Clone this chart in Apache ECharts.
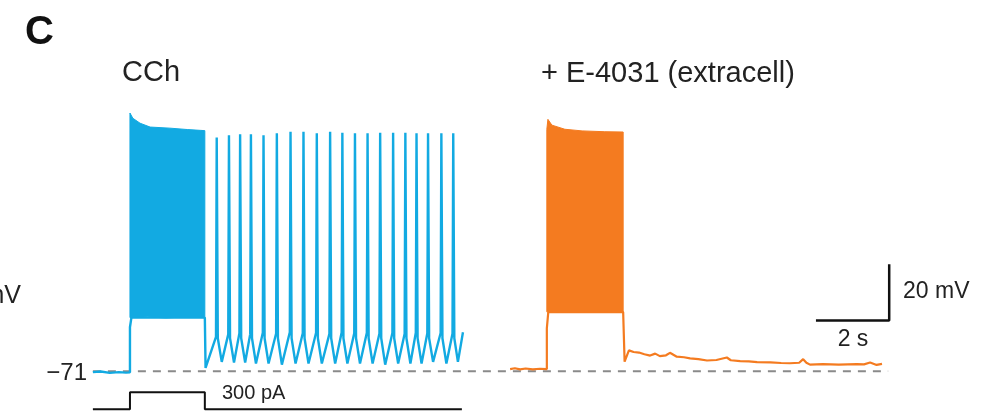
<!DOCTYPE html>
<html>
<head>
<meta charset="utf-8">
<script src="https://cdn.jsdelivr.net/npm/echarts@6/dist/echarts.min.js"></script>
<style>
  html, body { margin: 0; padding: 0; background: #fff; }
  #main { width: 986px; height: 417px; }
</style>
</head>
<body>
<div id="main"></div>
<script>
// membrane potential in mV, time in s
var restV = -71;

// CCh trace: baseline, then 300 pA step, then repetitive firing
var blueBase = [[0.08, -71.3], [0.3, -71.1], [0.55, -71.6], [0.8, -71.3], [1.0, -71.5], [1.11, -71.4],
  [1.11, -55.0], [1.14, -55.2], [1.15, -51.5], [3.19, -51.5], [3.21, -69.8]];
var spikeT = [3.52, 3.86, 4.17, 4.47, 4.82, 5.19, 5.57, 5.93, 6.30, 6.67, 7.01, 7.36, 7.71, 8.06, 8.42, 8.76, 9.07, 9.39, 9.76, 10.09];
var spikePeak = [14.0, 14.8, 15.2, 15.2, 14.8, 15.5, 16.1, 16.1, 15.5, 16.1, 15.7, 15.5, 15.5, 15.7, 15.7, 15.7, 15.5, 15.5, 15.5, 15.5];
var spikeFoot = [-58.5, -57.6, -57.2, -57.5, -57.0, -57.3, -56.8, -57.2, -57.0, -57.4, -56.9, -57.2, -57.0, -57.3, -57.1, -57.4, -57.0, -57.2, -57.1, -57.3];
// end of the fast repolarisation, then the AHP trough
var repolT = [3.55, 3.89, 4.20, 4.50, 4.85, 5.22, 5.60, 5.96, 6.33, 6.70, 7.04, 7.39, 7.74, 8.09, 8.45, 8.79, 9.10, 9.42, 9.79, 10.12];
var repolV = -59;
var troughT = [3.66, 4.00, 4.31, 4.61, 4.96, 5.33, 5.71, 6.07, 6.44, 6.81, 7.15, 7.50, 7.85, 8.20, 8.56, 8.90, 9.21, 9.53, 9.90, 10.22];
var troughV = [-67.6, -67.8, -67.8, -68.2, -68.2, -68.6, -68.2, -68.2, -68.2, -68.2, -68.2, -68.2, -68.2, -68.6, -68.2, -68.2, -68.2, -67.6, -68.2, -67.6];
var blueEnd = [10.36, -56.8];
// envelope of the dense firing during the step
var blueBandHi = [[1.11, 22.9], [1.19, 21.0], [1.39, 19.2], [1.67, 17.8], [2.22, 17.4], [2.7, 16.9], [3.06, 16.6], [3.19, 16.5]];
var blueBandLo = [[1.11, -51.5], [1.6, -51.2], [2.1, -51.6], [2.6, -51.3], [3.19, -51.5]];

// + E-4031 trace
var orangeTrace = [[11.67, -70.2], [11.72, -69.5], [11.8, -69.9], [11.95, -70.3], [12.1, -70.0], [12.3, -70.3], [12.5, -70.1], [12.69, -70.2],
  [12.69, -55.4], [12.72, -55.0], [12.73, -49.5], [14.81, -49.5],
  [14.85, -67.5], [14.97, -63.4], [15.1, -64.0], [15.25, -64.2], [15.4, -64.8], [15.56, -65.3], [15.7, -64.6], [15.83, -65.5],
  [16.0, -65.2], [16.11, -64.3], [16.3, -65.7], [16.5, -65.9], [16.67, -66.3], [16.9, -66.6], [17.14, -67.1], [17.4, -66.9],
  [17.69, -66.0], [17.8, -67.0], [18.06, -67.3], [18.3, -67.4], [18.53, -67.7], [18.9, -67.8], [19.2, -68.0], [19.44, -68.1],
  [19.7, -67.9], [19.81, -66.6], [19.9, -67.9], [20.0, -68.6], [20.36, -68.4], [20.8, -68.6], [21.3, -68.4], [21.5, -68.5],
  [21.67, -67.8], [21.85, -68.7], [22.0, -68.3]];
var orangeBandHi = [[12.69, 17.0], [12.72, 20.6], [12.83, 18.5], [13.19, 17.0], [13.67, 16.4], [14.3, 16.1], [14.81, 16.0]];
var orangeBandLo = [[12.69, -49.4], [13.3, -49.6], [14.0, -49.3], [14.81, -49.5]];

// injected current, pA
var currentStep = [[0.08, 0], [1.11, 0], [1.11, 300], [3.19, 300], [3.19, 0], [10.33, 0]];

// scale bar: 2 s, 20 mV
var barOrigin = [20.2, -52.5];
var barT = 2;
var barV = 20;

var blueColor = '#12aae2';
var orangeColor = '#f47b20';
var fontFamily = '"Liberation Sans", Arial, sans-serif';

var blueTrace = blueBase.slice();
for (var i = 0; i < spikeT.length; i++) {
  blueTrace.push([spikeT[i] - 0.02, spikeFoot[i]]);
  blueTrace.push([spikeT[i], spikePeak[i]]);
  blueTrace.push([repolT[i], repolV]);
  blueTrace.push([troughT[i], troughV[i]]);
}
blueTrace.push(blueEnd);

function bandSeries(hi, lo, color) {
  return {
    type: 'custom',
    xAxisIndex: 0,
    yAxisIndex: 0,
    z: 5,
    silent: true,
    clip: false,
    data: hi,
    encode: { x: 0, y: 1 },
    renderItem: function (params, api) {
      if (params.dataIndex !== 0) return null;
      var pts = [];
      for (var k = 0; k < hi.length; k++) pts.push(api.coord(hi[k]));
      for (var j = lo.length - 1; j >= 0; j--) pts.push(api.coord(lo[j]));
      return { type: 'polygon', shape: { points: pts }, style: { fill: color, stroke: color, lineWidth: 1 } };
    }
  };
}

var myChart = echarts.init(document.getElementById('main'));

var option = {
  animation: false,
  backgroundColor: '#fff',
  grid: [
    { left: 90, width: 810, top: 99, height: 291.5 },
    { left: 90, width: 810, top: 385, height: 30 }
  ],
  xAxis: [
    { type: 'value', gridIndex: 0, min: 0, max: 22.5, show: false },
    { type: 'value', gridIndex: 1, min: 0, max: 22.5, show: false }
  ],
  yAxis: [
    { type: 'value', gridIndex: 0, min: -78, max: 28, show: false },
    { type: 'value', gridIndex: 1, min: -100, max: 430, show: false }
  ],
  series: [
    {
      name: 'rest',
      type: 'line',
      data: [[0.08, restV], [22.17, restV]],
      symbol: 'none',
      clip: false,
      z: 1,
      lineStyle: { color: '#8a8a8a', width: 2, type: [8, 7] }
    },
    {
      name: 'CCh',
      type: 'line',
      data: blueTrace,
      symbol: 'none',
      clip: false,
      z: 3,
      lineStyle: { color: blueColor, width: 2.4 }
    },
    bandSeries(blueBandHi, blueBandLo, blueColor),
    {
      name: 'E-4031',
      type: 'line',
      data: orangeTrace,
      symbol: 'none',
      clip: false,
      z: 3,
      lineStyle: { color: orangeColor, width: 2.2 }
    },
    bandSeries(orangeBandHi, orangeBandLo, orangeColor),
    {
      name: 'scale',
      type: 'line',
      data: [[barOrigin[0], barOrigin[1]], [barOrigin[0] + barT, barOrigin[1]], [barOrigin[0] + barT, barOrigin[1] + barV]],
      symbol: 'none',
      clip: false,
      lineStyle: { color: '#111', width: 2.5, cap: 'square' }
    },
    {
      name: 'current',
      type: 'line',
      xAxisIndex: 1,
      yAxisIndex: 1,
      data: currentStep,
      symbol: 'none',
      clip: false,
      lineStyle: { color: '#111', width: 2 }
    }
  ],
  graphic: [
    { type: 'text', x: 25, y: 33, style: { text: 'C', font: 'bold 40px ' + fontFamily, fill: '#111', verticalAlign: 'middle' } },
    { type: 'text', x: 122, y: 73, style: { text: 'CCh', font: '29px ' + fontFamily, fill: '#222', verticalAlign: 'middle' } },
    { type: 'text', x: 541, y: 74, style: { text: '+ E-4031 (extracell)', font: '29px ' + fontFamily, fill: '#222', verticalAlign: 'middle' } },
    { type: 'text', x: 21, y: 296, style: { text: 'mV', font: '25px ' + fontFamily, fill: '#222', align: 'right', verticalAlign: 'middle' } },
    { type: 'text', x: 87, y: 373, style: { text: '\u221271', font: '24px ' + fontFamily, fill: '#222', align: 'right', verticalAlign: 'middle' } },
    { type: 'text', x: 222, y: 393, style: { text: '300 pA', font: '20px ' + fontFamily, fill: '#222', verticalAlign: 'middle' } },
    { type: 'text', x: 853, y: 340, style: { text: '2 s', font: '23px ' + fontFamily, fill: '#222', align: 'center', verticalAlign: 'middle' } },
    { type: 'text', x: 903, y: 292, style: { text: '20 mV', font: '23px ' + fontFamily, fill: '#222', verticalAlign: 'middle' } }
  ]
};

myChart.setOption(option);
</script>
</body>
</html>
